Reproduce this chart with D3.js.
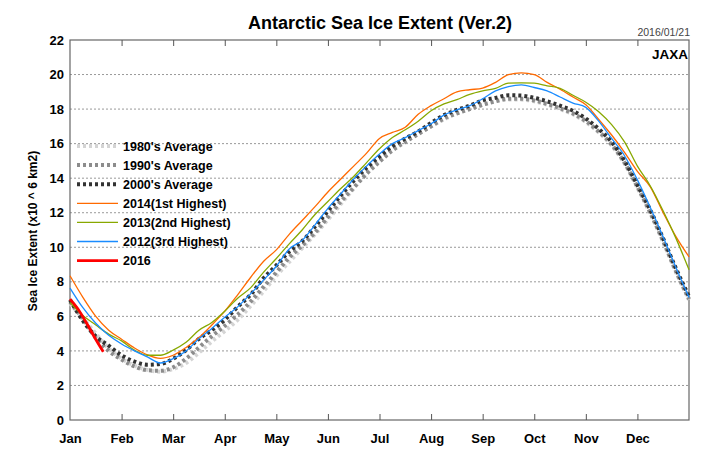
<!DOCTYPE html>
<html><head><meta charset="utf-8">
<script src="https://cdn.jsdelivr.net/npm/d3@7"></script>
<style>
body{margin:0;background:#fff;}
text{font-family:"Liberation Sans",Arial,Helvetica,sans-serif;}
</style></head>
<body><svg id="chart" width="720" height="450"></svg>
<script>
// ---- data (x in months since Jan 1, quarter-month steps) ----
const monthLabels = ["Jan","Feb","Mar","Apr","May","Jun","Jul","Aug","Sep","Oct","Nov","Dec"];
const yTicks = [0,2,4,6,8,10,12,14,16,18,20,22];
const xPos = [0,0.25,0.5,0.75,1,1.25,1.5,1.75,2,2.25,2.5,2.75,3,3.25,3.5,3.75,4,4.25,4.5,4.75,5,5.25,5.5,5.75,6,6.25,6.5,6.75,7,7.25,7.5,7.75,8,8.25,8.5,8.75,9,9.25,9.5,9.75,10,10.25,10.5,10.75,11,11.25,11.5,11.75,12];
const avg1980s = [6.75,5.9,5.0,4.15,3.55,3.15,2.9,2.8,2.95,3.3,3.9,4.55,5.15,5.8,6.6,7.45,8.35,9.15,9.95,10.75,11.6,12.5,13.4,14.3,15.0,15.7,16.2,16.6,17.0,17.4,17.75,18.0,18.25,18.45,18.55,18.55,18.45,18.25,18.0,17.7,17.25,16.65,15.9,14.85,13.45,11.95,10.3,8.55,6.95];
const avg1990s = [6.85,5.85,4.75,4.0,3.5,3.1,2.88,2.85,3.05,3.55,4.2,4.85,5.45,6.1,6.85,7.7,8.55,9.4,10.1,10.85,11.75,12.65,13.45,14.25,14.95,15.6,16.1,16.55,17.0,17.45,17.75,18.0,18.25,18.45,18.6,18.6,18.5,18.3,18.05,17.75,17.3,16.7,15.95,14.9,13.5,12.0,10.35,8.6,7.0];
const avg2000s = [6.96,5.75,4.85,4.3,3.75,3.38,3.2,3.24,3.55,4.05,4.7,5.2,5.8,6.55,7.25,8.2,8.95,9.75,10.35,11.2,12.1,13.0,13.85,14.6,15.25,15.85,16.3,16.7,17.2,17.65,17.95,18.2,18.5,18.65,18.8,18.78,18.65,18.45,18.2,17.9,17.45,16.85,16.1,15.0,13.6,12.15,10.5,8.75,7.15];
const y2014 = [8.35,7.1,6.0,5.2,4.68,4.17,3.77,3.57,3.75,4.2,4.77,5.5,6.3,7.25,8.25,9.18,9.85,10.75,11.55,12.35,13.2,13.95,14.7,15.45,16.3,16.65,16.95,17.7,18.2,18.6,19.0,19.12,19.22,19.55,20.0,20.1,20.0,19.55,19.15,18.7,18.25,17.4,16.5,15.5,14.4,13.5,12.0,10.6,9.45];
const y2013 = [6.8,6.05,5.5,4.97,4.58,4.05,3.75,3.75,4.05,4.5,5.2,5.65,6.3,7.05,7.65,8.55,9.35,10.2,11.0,11.9,12.65,13.4,14.1,14.9,15.7,16.35,16.8,17.3,17.9,18.3,18.55,18.85,19.05,19.2,19.5,19.52,19.5,19.35,19.2,18.8,18.4,17.85,17.1,16.1,14.7,13.55,12.1,10.5,8.7];
const y2012 = [7.64,6.5,5.6,4.9,4.4,4.0,3.65,3.3,3.55,4.0,4.7,5.3,5.95,6.55,7.3,8.1,8.9,9.9,10.4,11.3,12.25,13.1,13.95,14.7,15.4,16.0,16.35,16.75,17.15,17.65,17.95,18.2,18.6,19.05,19.3,19.4,19.25,19.05,18.7,18.35,18.1,17.3,16.3,15.3,13.9,12.3,10.6,8.8,7.1];
const x2016 = [0,0.161,0.323,0.484,0.645];
const y2016 = [7.0,6.4,5.6,4.75,3.95];

const seriesNames = ["1980's Average","1990's Average","2000's Average","2014(1st Highest)","2013(2nd Highest)","2012(3rd Highest)","2016"];
const seriesColors = ["#d4d4d4","#8c8c8c","#333333","#ff6a00","#88a800","#1a8cff","#ff0000"];

// ---- build ----
const svg = d3.select("#chart");
const L=70, R=689, T=40, B=420;
const x = d3.scaleLinear().domain([0,12]).range([L,R]);
const y = d3.scaleLinear().domain([0,22]).range([B,T]);

// grid
svg.append("g").selectAll("line").data(yTicks.filter(v=>v>0&&v<22)).join("line")
  .attr("x1",L).attr("x2",R).attr("y1",d=>y(d)).attr("y2",d=>y(d))
  .attr("stroke","#999").attr("stroke-width",1).attr("stroke-dasharray","2,2");

// frame
svg.append("rect").attr("x",L).attr("y",T).attr("width",R-L).attr("height",B-T)
  .attr("fill","none").attr("stroke","#666").attr("stroke-width",1.2);

// month ticks top/bottom
const mt = d3.range(1,12);
svg.append("g").attr("transform",`translate(0,${B})`)
  .call(d3.axisBottom(x).tickValues(mt).tickSize(-6).tickFormat(""))
  .call(g=>g.select(".domain").remove())
  .call(g=>g.selectAll("line").attr("stroke","#555"));
svg.append("g").attr("transform",`translate(0,${T})`)
  .call(d3.axisTop(x).tickValues(mt).tickSize(-6).tickFormat(""))
  .call(g=>g.select(".domain").remove())
  .call(g=>g.selectAll("line").attr("stroke","#555"));

// month labels
svg.append("g").attr("transform",`translate(0,${B})`)
  .call(d3.axisBottom(x).tickValues(d3.range(0,12)).tickSize(0).tickPadding(14).tickFormat(i=>monthLabels[i]))
  .call(g=>g.select(".domain").remove())
  .call(g=>g.selectAll("text").attr("font-size",13).attr("font-weight","bold").attr("fill","#000")
    .attr("font-family",'"Liberation Sans",Arial,sans-serif'));

// y labels
svg.append("g").attr("transform",`translate(${L},0)`)
  .call(d3.axisLeft(y).tickValues(yTicks).tickSize(0).tickPadding(6))
  .call(g=>g.select(".domain").remove())
  .call(g=>g.selectAll("text").attr("font-size",13).attr("font-weight","bold").attr("fill","#000")
    .attr("font-family",'"Liberation Sans",Arial,sans-serif'));

// title etc.
svg.append("text").attr("x",380).attr("y",29).attr("text-anchor","middle")
  .attr("font-size",18).attr("font-weight","bold").text("Antarctic Sea Ice Extent (Ver.2)");
svg.append("text").attr("x",690).attr("y",36).attr("text-anchor","end")
  .attr("font-size",10.5).attr("fill","#444").text("2016/01/21");
svg.append("text").attr("x",688).attr("y",59).attr("text-anchor","end")
  .attr("font-size",13.5).attr("font-weight","bold").text("JAXA");
svg.append("text").attr("transform","translate(37,231) rotate(-90)").attr("text-anchor","middle")
  .attr("font-size",12).attr("font-weight","bold").text("Sea Ice Extent (x10 ^ 6 km2)");

// lines
const line = d3.line().x(d=>x(d[0])).y(d=>y(d[1])).curve(d3.curveMonotoneX);
const styles = [
  {w:4,dash:"3,3"},{w:4,dash:"3,3"},{w:4,dash:"3,3"},
  {w:1.3,dash:null},{w:1.3,dash:null},{w:1.3,dash:null},{w:2.8,dash:null}
];
const allSeries = [avg1980s,avg1990s,avg2000s,y2014,y2013,y2012];
allSeries.forEach((s,i)=>{
  svg.append("path").datum(xPos.map((xv,k)=>[xv,s[k]]))
    .attr("d",line).attr("fill","none").attr("stroke",seriesColors[i])
    .attr("stroke-width",styles[i].w).attr("stroke-dasharray",styles[i].dash);
});
svg.append("path").datum(x2016.map((xv,k)=>[xv,y2016[k]]))
  .attr("d",line).attr("fill","none").attr("stroke",seriesColors[6]).attr("stroke-width",styles[6].w);

// legend
const lg = svg.append("g");
seriesNames.forEach((n,i)=>{
  const yy = 146 + i*19.1;
  lg.append("line").attr("x1",77).attr("x2",118).attr("y1",yy).attr("y2",yy)
    .attr("stroke",seriesColors[i]).attr("stroke-width",i<3?4:(i===6?2.8:1.3))
    .attr("stroke-dasharray",styles[i].dash);
  lg.append("text").attr("x",123).attr("y",yy+4.5).attr("font-size",12.5).attr("font-weight","bold").text(n);
});
</script></body></html>
